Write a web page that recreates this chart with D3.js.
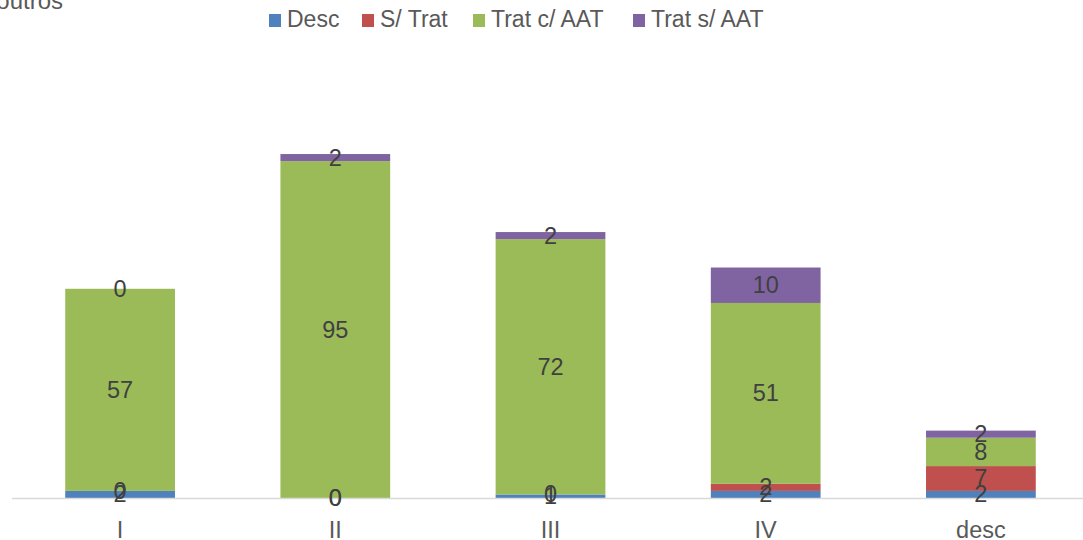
<!DOCTYPE html>
<html>
<head>
  <meta charset="utf-8">
  <script src="https://d3js.org/d3.v7.min.js"></script>
  <style>
  body { margin: 0; background: #fff; }
  * { font-family: "Liberation Sans", Arial, sans-serif; }
  </style>
</head>
<body>
<div id="chart"></div>
<script>
const categories = ["I", "II", "III", "IV", "desc"];
const seriesNames = ["Desc", "S/ Trat", "Trat c/ AAT", "Trat s/ AAT"];
const desc      = [2, 0, 1, 2, 2];
const semTrat   = [0, 0, 0, 2, 7];
const tratComAAT = [57, 95, 72, 51, 8];
const tratSemAAT = [0, 2, 2, 10, 2];
const colors = ["#4f81bd", "#c0504d", "#9bbb59", "#8064a2"];

const width = 1083, height = 540;
const baseY = 498;

const svg = d3.select("#chart")
              .append("svg")
              .attr("width", width)
              .attr("height", height);

const rows = categories.map(function(c, i) {
  return { cat: c, "Desc": desc[i], "S/ Trat": semTrat[i], "Trat c/ AAT": tratComAAT[i], "Trat s/ AAT": tratSemAAT[i] };
});
const stacked = d3.stack().keys(seriesNames)(rows);

const x = d3.scaleBand()
            .domain(categories)
            .range([12.5, 1088.5])
            .paddingInner(0.49)
            .paddingOuter(0.245);

const y = d3.scaleLinear()
            .domain([0, 100])
            .range([baseY, baseY - 354.6]);

// bars
stacked.forEach(function(s, si) {
  svg.append("g")
     .selectAll("rect")
     .data(s)
     .join("rect")
     .attr("x", d => x(d.data.cat))
     .attr("width", x.bandwidth())
     .attr("y", d => y(d[1]))
     .attr("height", d => y(d[0]) - y(d[1]))
     .attr("fill", colors[si]);
});

// baseline
svg.append("line")
   .attr("x1", 12).attr("x2", width)
   .attr("y1", baseY + 0.5).attr("y2", baseY + 0.5)
   .attr("stroke", "#d9d9d9")
   .attr("stroke-width", 1.5);

// data labels
stacked.forEach(function(s) {
  svg.append("g")
     .selectAll("text")
     .data(s)
     .join("text")
     .attr("x", d => x(d.data.cat) + x.bandwidth() / 2)
     .attr("y", d => (y(d[0]) + y(d[1])) / 2)
     .attr("text-anchor", "middle")
     .attr("dominant-baseline", "central")
     .style("font-size", "23.5px")
     .style("fill", "#404040")
     .text(d => d[1] - d[0]);
});

// category labels
svg.append("g")
   .selectAll("text")
   .data(categories)
   .join("text")
   .attr("x", d => x(d) + x.bandwidth() / 2)
   .attr("y", 538)
   .attr("text-anchor", "middle")
   .style("font-size", "23.5px")
   .style("fill", "#595959")
   .text(d => d);

// legend
const legendX = [269, 362, 473, 633];
const legend = svg.append("g");
seriesNames.forEach(function(name, i) {
  legend.append("rect")
        .attr("x", legendX[i]).attr("y", 14)
        .attr("width", 12).attr("height", 13)
        .attr("fill", colors[i]);
  legend.append("text")
        .attr("x", legendX[i] + 18).attr("y", 27)
        .style("font-size", "23px")
        .style("fill", "#595959")
        .text(name);
});

// title (cut off at top)
svg.append("text")
   .attr("x", 63).attr("y", 9)
   .attr("text-anchor", "end")
   .style("font-size", "24px")
   .style("fill", "#595959")
   .text("outros");
</script>
</body>
</html>
